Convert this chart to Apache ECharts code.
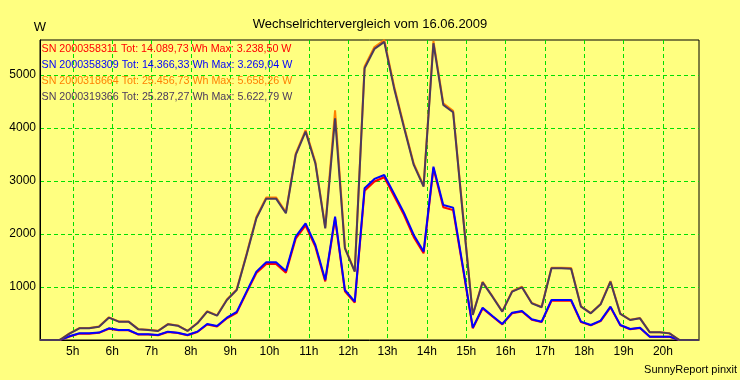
<!DOCTYPE html>
<html><head><meta charset="utf-8">
<script src="https://cdn.jsdelivr.net/npm/echarts@6/dist/echarts.min.js"></script>
<style>html,body{margin:0;padding:0;background:#FFFF80}#c{width:740px;height:380px}</style>
</head><body><div id="c"></div>
<script>
const chartTitle = 'Wechselrichtervergleich vom 16.06.2009';
const unitLabel = 'W';
const footerText = 'SunnyReport pinxit';
const times = ['04:10','04:25','04:40','04:55','05:10','05:25','05:40','05:55','06:10','06:25','06:40','06:55',
  '07:10','07:25','07:40','07:55','08:10','08:25','08:40','08:55','09:10','09:25','09:40','09:55',
  '10:10','10:25','10:40','10:55','11:10','11:25','11:40','11:55','12:10','12:25','12:40','12:55',
  '13:10','13:25','13:40','13:55','14:10','14:25','14:40','14:55','15:10','15:25','15:40','15:55',
  '16:10','16:25','16:40','16:55','17:10','17:25','17:40','17:55','18:10','18:25','18:40','18:55',
  '19:10','19:25','19:40','19:55','20:10','20:25','20:40','20:55'];
const seriesNames = ['SN 2000358311','SN 2000358309','SN 2000318664','SN 2000319366'];
const seriesInfo = ['Tot: 14.089,73 Wh Max: 3.238,50 W','Tot: 14.366,33 Wh Max: 3.269,04 W',
  'Tot: 25.456,73 Wh Max: 5.658,26 W','Tot: 25.287,27 Wh Max: 5.622,79 W'];
const sn358311 = [0,0,0,65,120,120,135,212,183,183,
  103,103,90,152,133,90,150,292,255,410,
  512,893,1262,1432,1432,1270,1910,2160,1756,1105,
  2290,920,705,2815,2990,3070,2715,2360,1940,1635,
  3238,2505,2450,1350,220,595,443,294,505,537,
  380,338,740,740,740,338,276,357,616,276,
  202,226,60,60,60,0,0,0];
const sn358309 = [0,0,0,70,126,126,140,220,189,189,
  107,107,94,157,138,94,157,302,264,421,
  530,912,1290,1465,1465,1300,1950,2200,1792,1132,
  2327,943,723,2862,3038,3113,2761,2403,1981,1667,
  3269,2547,2497,1380,232,610,453,302,515,547,
  390,346,755,755,755,346,283,365,629,283,
  208,232,63,63,63,0,0,0];
const sn318664 = [0,0,0,125,225,225,255,428,350,350,
  205,192,173,300,274,173,320,542,465,765,
  955,1620,2320,2690,2690,2410,3515,3960,3355,2125,
  4330,1745,1300,5160,5525,5658,4785,4040,3325,2915,
  5640,4465,4325,2370,478,1098,825,541,920,1004,
  699,623,1365,1365,1358,636,508,680,1110,497,
  381,413,147,147,127,0,0,0];
const sn319366 = [0,0,0,120,221,221,250,421,346,346,
  201,189,170,296,270,170,315,535,459,755,
  943,1604,2296,2666,2666,2390,3490,3930,3330,2107,
  4183,1730,1289,5126,5490,5623,4750,4013,3302,2893,
  5598,4434,4296,2350,472,1088,817,535,912,994,
  692,617,1353,1353,1345,629,503,673,1100,491,
  377,409,145,145,125,0,0,0];
const hourTicks = [5,6,7,8,9,10,11,12,13,14,15,16,17,18,19,20];
const yTicks = [1000,2000,3000,4000,5000];
const yMaxValue = 5658.26;

const colors = ['#FF0000','#0000FF','#FF8000','#4B3A5C'];
const FONT = 'Liberation Sans, Arial, sans-serif';
function toHour(s){const p=s.split(':');return Number(p[0])+Number(p[1])/60;}
const allSeries = [sn358311, sn358309, sn318664, sn319366];

const chart = echarts.init(document.getElementById('c'), null, {renderer:'canvas'});
const gridLine = {show:true, lineStyle:{color:'#00E000', type:[4,3], width:1}};
const option = {
  backgroundColor:'#FFFF80',
  animation:false,
  title:{text:chartTitle, left:'center', top:13, textStyle:{fontFamily:FONT, fontSize:13, fontWeight:'normal', color:'#000'}},
  grid:{left:40, top:40, width:659, height:300, show:true, borderColor:'#000', borderWidth:1, backgroundColor:'#FFFF80', containLabel:false},
  xAxis:{type:'value', min:toHour(times[0]), max:toHour(times[times.length-1]),
    axisLine:{show:true, lineStyle:{color:'#000', width:1}},
    axisTick:{show:false, customValues:hourTicks},
    axisLabel:{customValues:hourTicks, formatter:v=>String(v)+'h', color:'#000', fontFamily:FONT, fontSize:12, margin:6},
    splitLine:gridLine},
  yAxis:{type:'value', min:0, max:yMaxValue, name:unitLabel, nameLocation:'end', nameGap:13,
    nameTextStyle:{fontFamily:FONT, fontSize:13, color:'#000', align:'center', verticalAlign:'middle'},
    axisLine:{show:true, lineStyle:{color:'#000', width:1}},
    axisTick:{show:false, customValues:yTicks},
    axisLabel:{customValues:yTicks, formatter:v=>String(v), color:'#000', fontFamily:FONT, fontSize:12, margin:4},
    splitLine:gridLine},
  series: allSeries.map((arr,i)=>({
    name:seriesNames[i], type:'line', symbol:'none', showSymbol:false,
    data:times.map((t,j)=>[toHour(t), arr[j]]),
    lineStyle:{color:colors[i], width:2}, itemStyle:{color:colors[i]}, z:2+i
  })),
  graphic: seriesNames.map((n,i)=>({
    type:'text', x:41.5, y:49.5+i*15.7, z:100,
    style:{text:n+' '+seriesInfo[i], fill:colors[i], font:'10.7px '+FONT, verticalAlign:'middle'}
  })).concat([{type:'text', right:3, top:364, style:{text:footerText, fill:'#000', font:'11px '+FONT}}])
};
chart.setOption(option);
</script></body></html>
